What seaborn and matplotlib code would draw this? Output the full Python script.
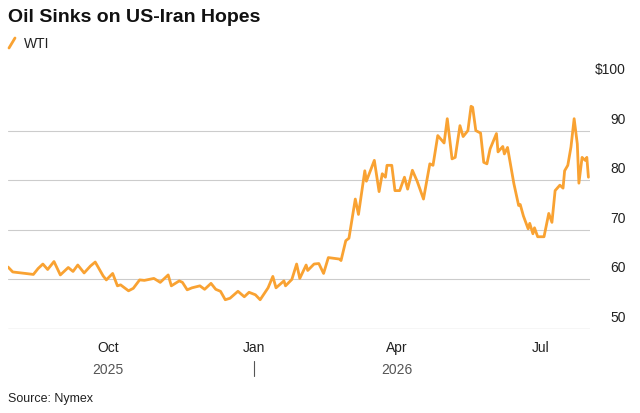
import numpy as np
import pandas as pd
import seaborn as sns
import matplotlib.pyplot as plt
import matplotlib.transforms as mtransforms
from matplotlib.lines import Line2D

# days from 2026-01-01
day_offsets = [-155, -152, -144, -139, -136, -133, -130, -126, -122, -117, -114, -111, -107, -103,
               -100, -95, -93, -89, -86, -84, -79, -76, -72, -69, -63, -59, -54, -52, -47, -45,
               -42, -39, -34, -31, -27, -24, -21, -18, -15, -10, -6, -3, 1, 4, 9, 12, 14, 19, 20,
               24, 27, 29, 33, 34, 38, 41, 44, 47, 54, 55, 58, 60, 64, 66, 70, 71, 76, 79, 81, 83,
               84, 87, 89, 92, 95, 97, 100, 103, 107, 111, 113, 116, 120, 122, 125, 127, 130, 132,
               135, 137, 138, 140, 143, 145, 147, 149, 153, 154, 157, 158, 160, 164, 167, 168, 170,
               173, 174, 176, 177, 179, 183, 186, 188, 190, 193, 195, 196, 198, 200, 202, 204, 205,
               207, 209, 210, 211]
wti = [62.5, 61.5, 61.2, 61.0, 62.2, 63.1, 62.0, 63.6, 60.9, 62.4, 61.6, 62.9, 61.3, 62.7,
       63.5, 60.7, 59.9, 61.2, 58.7, 58.9, 57.7, 58.2, 59.9, 59.8, 60.2, 59.4, 60.9, 58.7, 59.7, 59.4,
       57.9, 58.3, 58.7, 58.0, 59.2, 58.0, 57.6, 55.9, 56.2, 57.6, 56.5, 57.4, 56.9, 55.9, 58.3, 60.6, 58.3, 59.7, 58.7,
       60.0, 63.1, 60.2, 62.9, 61.8, 63.1, 63.2, 61.2, 64.4, 64.1, 63.8, 67.8, 68.3, 76.2, 73.1, 81.9, 79.8, 84.0, 77.7, 81.3, 80.6,
       83.0, 83.0, 77.9, 77.9, 80.6, 78.2, 82.0, 79.8, 76.2, 83.3, 83.0, 89.0, 87.5, 92.4, 84.3, 84.6, 91.0, 88.8,
       90.0, 94.9, 94.7, 90.0, 89.5, 83.6, 83.3, 86.3, 89.4, 85.7, 86.8, 85.3, 86.6, 79.3, 74.9, 75.1, 72.8,
       70.2, 71.3, 69.2, 70.4, 68.6, 68.6, 73.3, 71.5, 77.9, 79.0, 78.4, 81.9, 83.0, 86.7, 92.4, 87.3, 79.4,
       84.6, 84.0, 84.6, 80.6]
y_ticks = [50, 60, 70, 80, 90, 100]
y_labels = ["50", "60", "70", "80", "90", "$100"]
month_ticks = ["2025-10-01", "2026-01-01", "2026-04-01", "2026-07-01"]
month_labels = ["Oct", "Jan", "Apr", "Jul"]

df = pd.DataFrame({"date": pd.Timestamp("2026-01-01") + pd.to_timedelta(day_offsets, unit="D"),
                   "WTI": wti})

sns.set_theme(style="white")
plt.rcParams["font.family"] = ["Liberation Sans", "DejaVu Sans"]
orange = "#F9A232"

fig = plt.figure(figsize=(6.4, 4.14), dpi=100)
ax = fig.add_axes([8 / 640, 1 - 330 / 414, 582 / 640, (330 - 82) / 414])
sns.lineplot(data=df, x="date", y="WTI", color=orange, linewidth=2, ax=ax)

ax.set_ylim(50, 100)
ax.set_xlim(pd.Timestamp("2025-07-30"), pd.Timestamp("2026-08-01"))
for y in y_ticks[1:-1]:
    ax.axhline(y, color="#cccccc", linewidth=0.8, zorder=0)
ax.axhline(50, color="#bbbbbb", linewidth=0.9, zorder=0)
for s in ax.spines.values():
    s.set_visible(False)
ax.set_yticks([])
ax.set_xlabel("")
ax.set_ylabel("")

trans = mtransforms.blended_transform_factory(ax.transAxes, ax.transData)
for y, lab in zip(y_ticks, y_labels):
    ax.text(1.062, y + 1.0, lab, transform=trans, ha="right", va="bottom", fontsize=10, color="#222222")

ax.set_xticks(pd.to_datetime(month_ticks))
ax.set_xticklabels(month_labels, fontsize=10, color="#222222")
ax.tick_params(axis="x", length=0, pad=8)
xt = mtransforms.blended_transform_factory(ax.transData, ax.transAxes)
ax.text(pd.Timestamp("2025-10-01"), -0.135, "2025", transform=xt, ha="center", va="top", fontsize=10, color="#555555")
ax.text(pd.Timestamp("2026-04-01"), -0.135, "2026", transform=xt, ha="center", va="top", fontsize=10, color="#555555")
ax.plot([pd.Timestamp("2026-01-01")] * 2, [-0.13, -0.19], transform=xt, color="#555555", lw=0.8, clip_on=False)

fig.text(8 / 640, 1 - 18 / 414, "Oil Sinks on US-Iran Hopes", fontsize=14, fontweight="bold", va="center", color="#111111")
fig.add_artist(Line2D([9 / 640, 15 / 640], [1 - 49 / 414, 1 - 39 / 414], color=orange, lw=2))
fig.text(24 / 640, 1 - 44 / 414, "WTI", fontsize=10, va="center", color="#222222")
fig.text(8 / 640, 1 - 399 / 414, "Source: Nymex", fontsize=9, va="center", color="#222222")

fig.savefig("out.png", dpi=100)
